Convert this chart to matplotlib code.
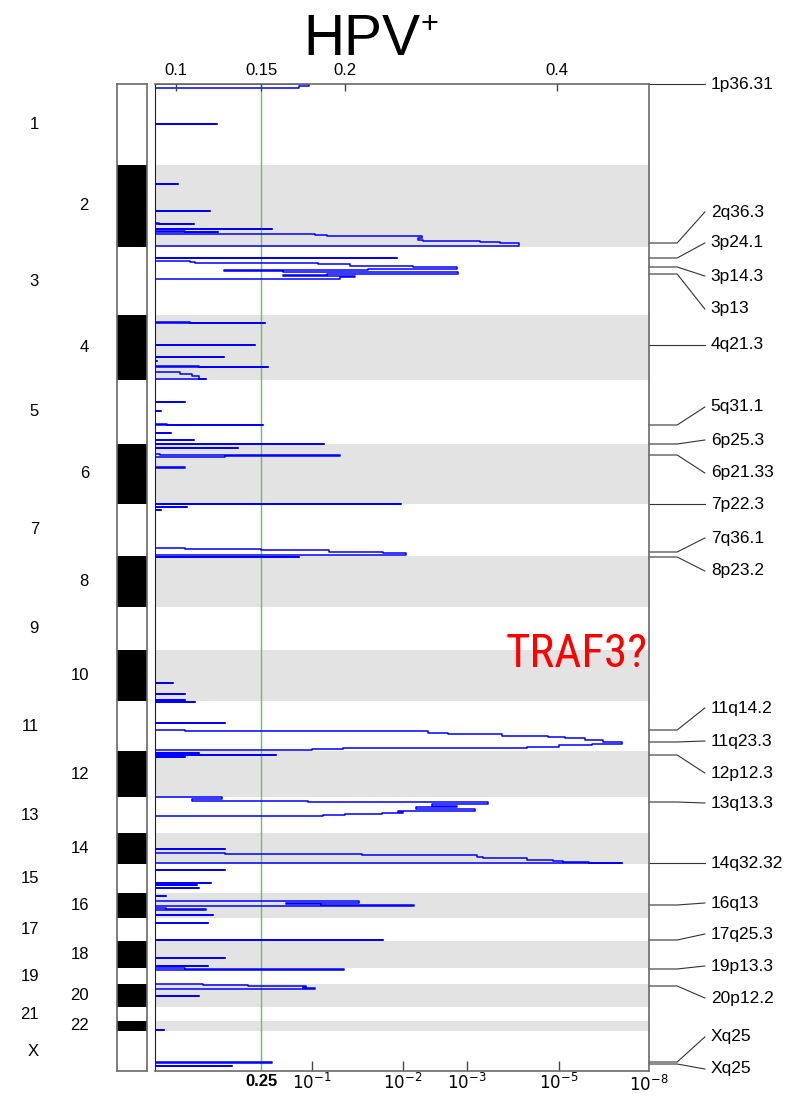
import numpy as np
import matplotlib
matplotlib.use('Agg')
import matplotlib.pyplot as plt
from matplotlib import font_manager
from matplotlib.font_manager import FontProperties
from matplotlib.transforms import blended_transform_factory

plt.rcParams['font.family'] = ['Liberation Sans', 'DejaVu Sans']

chrom_names = ['1', '2', '3', '4', '5', '6', '7', '8', '9', '10', '11', '12',
               '13', '14', '15', '16', '17', '18', '19', '20', '21', '22', 'X']
# chromosome lengths (Mb) as laid out on the genome axis
chrom_len = [243, 246, 204, 195, 192, 180, 156, 153, 129, 153, 150, 138,
             108, 93, 87, 75, 69, 81, 48, 69, 42, 30, 120]

# amplification runs: chromosome, positions (Mb) and -log10(q) along each run
run_chrom = ['1', '1',
             '2', '2', '2', '2', '2', '2',
             '3', '3',
             '4', '4', '4', '4', '4', '4',
             '5', '5', '5', '5', '5',
             '6', '6', '6', '6',
             '7', '7', '7', '7', '8',
             '10', '10', '10',
             '11', '11', '11',
             '12', '12', '12',
             '13',
             '14', '14',
             '15', '15', '15', '15',
             '16', '16', '16', '16',
             '17', '17',
             '18', '18',
             '19',
             '20', '20',
             '22',
             'X', 'X']
run_pos = [[0, 6, 12], [120],
           [57], [138], [174, 177], [192], [198, 201],
           [207, 210, 213, 219, 225, 228, 231, 234, 237, 243],
           [33], [42, 45, 48, 51, 57, 60, 66, 69, 72, 75, 81, 84, 87, 90, 96],
           [21, 24], [90], [126], [138], [153, 156], [171, 177, 183, 189, 192],
           [66], [93], [132, 135], [159], [180],
           [0], [12], [30, 33, 36, 39], [69, 72],
           [0], [9], [18], [132, 135, 138, 141, 144, 147, 153], [3],
           [99], [132], [150],
           [3], [66], [87, 90, 96, 99, 105, 108, 111, 117, 123, 129, 132, 138, 141, 144, 147],
           [6], [12], [18],
           [0, 6, 12, 15, 21, 27, 30, 36, 42, 45, 48, 51, 54, 57],
           [48], [60, 63, 66, 72, 75, 81, 84, 87, 90],
           [18], [57], [63], [72],
           [9], [24, 30, 33, 36, 39], [45, 48, 51], [66],
           [15], [66],
           [51], [75],
           [0, 3, 6],
           [0, 3, 6, 9, 12, 15], [36],
           [27],
           [93, 96], [105]]
run_q = [[0.98, 0.90, 0.25], [0.35],
         [0.13], [0.31], [0.02, 0.22], [0.69], [0.17, 0.36],
         [1.03, 1.16, 2.30, 2.23, 2.31, 3.28, 3.72, 4.13, 4.13, 3.83],
         [1.93], [0.20, 0.23, 1.07, 1.42, 2.16, 2.84, 1.62, 0.39, 0.77, 2.86, 1.16, 0.77, 1.47, 1.31, 1.23],
         [0.20, 0.63], [0.57], [0.39], [0.01], [0.25, 0.66], [0.14, 0.21, 0.25, 0.25, 0.29],
         [0.17], [0.035], [0.07, 0.62], [0.09], [0.22],
         [1.13], [0.47], [0.03, 1.31, 0.40, 0.17], [0.17, 0.17],
         [1.98], [0.18], [0.035], [0.17, 0.60, 1.19, 1.19, 1.78, 2.04, 0.90], [0.90],
         [0.10], [0.17], [0.17],
         [0.23], [0.40], [0.17, 2.39, 2.70, 3.76, 4.76, 5.20, 5.87, 6.47, 7.10, 6.10, 5.00, 4.30, 1.34, 1.00, 0.88],
         [0.25], [0.72], [0.17],
         [0.38, 0.21, 0.97, 3.46, 2.45, 2.84, 2.20, 3.17, 1.95, 2.00, 1.77, 1.36, 1.12, 1.10],
         [0.40], [0.40, 1.55, 3.22, 3.35, 4.30, 4.87, 5.13, 6.00, 7.10],
         [0.40], [0.32], [0.24], [0.25],
         [0.06], [1.52, 0.80, 1.10, 2.17, 0.13], [0.06, 0.29, 0.29], [0.33],
         [0.30], [1.78],
         [0.40], [0.30],
         [0.17, 1.35, 0.18],
         [0.27, 0.53, 0.95, 0.93, 1.03, 0.40], [0.25],
         [0.05],
         [0.69, 0.55], [0.44]]

# named peaks (cytoband, chromosome, position in Mb)
peak_names = ['1p36.31', '2q36.3', '3p24.1', '3p14.3', '3p13', '4q21.3', '5q31.1',
              '6p25.3', '6p21.33', '7p22.3', '7q36.1', '8p23.2', '11q14.2', '11q23.3',
              '12p12.3', '13q13.3', '14q32.32', '16q13', '17q25.3', '19p13.3',
              '20p12.2', 'Xq25', 'Xq25']
peak_chrom = ['1', '2', '3', '3', '3', '4', '5', '6', '6', '7', '7', '8', '11', '11',
              '12', '13', '14', '16', '17', '19', '20', 'X', 'X']
peak_pos = [0, 234, 33, 60, 81, 90, 135, 0, 33, 0, 144, 3, 87, 123,
            12, 15, 90, 36, 66, 3, 6, 93, 99]
# where each cytoband name sits, on the genome axis
label_y = [0, 384, 477, 576, 675, 783, 969, 1068, 1167, 1260, 1362, 1461, 1872, 1971,
           2067, 2157, 2337, 2457, 2550, 2646, 2742, 2859, 2955]

# axis calibration: -log10(q) against distance from the left edge
qscale_val = [0, 0.602, 1, 2, 3, 5, 8]
qscale_pix = [0, 106, 157, 248, 312, 404, 494]
q_ticks = [0.602, 1, 2, 3, 5, 8]
q_labels = ['0.25', '$10^{-1}$', '$10^{-2}$', '$10^{-3}$', '$10^{-5}$', '$10^{-8}$']
gscore_labels = ['0.1', '0.15', '0.2', '0.4']
gscore_at = [0.12, 0.602, 1.36, 4.96]
q_cutoff = 0.602


def fwd(v):
    return np.interp(v, qscale_val, qscale_pix)


def inv(p):
    return np.interp(p, qscale_pix, qscale_val)


def narrow_font():
    # look for a condensed sans face, fall back to the default family
    prefer = ['Liberation Sans Narrow', 'Arial Narrow', 'Roboto Condensed',
              'Open Sans Condensed', 'DejaVu Sans Condensed', 'Noto Sans Condensed']
    faces = [f for f in font_manager.fontManager.ttflist
             if f.style == 'normal' and f.weight in (400, 'normal', 'regular')]
    for name in prefer:
        for f in faces:
            if f.name == name:
                return FontProperties(fname=f.fname)
    for f in faces:
        if f.stretch in ('condensed', 'semi-condensed') and 'Mono' not in f.name \
                and 'Serif' not in f.name:
            return FontProperties(fname=f.fname)
    return FontProperties(family='Liberation Sans')


offsets = np.concatenate([[0], np.cumsum(chrom_len)])
chrom_idx = {c: i for i, c in enumerate(chrom_names)}
total = offsets[-1]

W, H = 798, 1096
fig = plt.figure(figsize=(W / 100, H / 100), dpi=100)
ax = fig.add_axes([155 / W, 1 - 1071 / H, 494 / W, 987 / H])
ax.set_xscale('function', functions=(fwd, inv))
ax.set_xlim(0, 8)
ax.set_ylim(total, 0)

# shade the even chromosomes
for i in range(len(chrom_names)):
    if i % 2 == 1:
        ax.axhspan(offsets[i], offsets[i + 1], color='#e3e3e3', lw=0, zorder=0)

ax.axvline(q_cutoff, color='#6cbf66', lw=1, zorder=1)

xs, ys = [], []
for c, pos, q in zip(run_chrom, run_pos, run_q):
    g = offsets[chrom_idx[c]] + np.array(pos, dtype=float)
    xs += [0] + list(q) + [0]
    ys += [g[0]] + list(g) + [g[-1]]
ax.plot(xs, ys, color='#0000ff', lw=1.1, drawstyle='steps-pre', zorder=2)

ax.set_yticks([])
ax.set_xticks(q_ticks[1:-1])
ax.set_xticklabels(q_labels[1:-1])
ax.set_xticks([q_ticks[0], q_ticks[-1]], minor=True)
ax.set_xticklabels([q_labels[0], q_labels[-1]], minor=True)
ax.tick_params(axis='x', which='major', direction='in', length=7, width=1,
               color='#444444', labelsize=12, pad=1)
ax.tick_params(axis='x', which='minor', length=0, labelsize=12, pad=2)
ax.get_xticklabels(minor=True)[0].set_fontweight('bold')
for s in ['top', 'right', 'bottom']:
    ax.spines[s].set_color('#6a6a6a')
    ax.spines[s].set_linewidth(1.2)
ax.spines['left'].set_color('#222222')

top = ax.twiny()
top.set_xscale('function', functions=(fwd, inv))
top.set_xlim(0, 8)
top.set_xticks(gscore_at)
top.set_xticklabels(gscore_labels)
top.tick_params(axis='x', direction='in', length=5, width=1, color='#444444',
                labelsize=12, pad=4)
for s in top.spines.values():
    s.set_visible(False)

# chromosome bar
cb = fig.add_axes([117 / W, 1 - 1071 / H, 30 / W, 987 / H])
cb.set_xlim(0, 1)
cb.set_ylim(total, 0)
for i in range(len(chrom_names)):
    if i % 2 == 1:
        cb.axhspan(offsets[i], offsets[i + 1], color='black', lw=0)
cb.set_xticks([])
cb.set_yticks([])
for s in cb.spines.values():
    s.set_color('#6a6a6a')
    s.set_linewidth(1.2)

lab_tr = blended_transform_factory(fig.transFigure, ax.transData)
for i, name in enumerate(chrom_names):
    xpix = 39 if i % 2 == 0 else 89
    fig.text(xpix / W, (offsets[i] + offsets[i + 1]) / 2, name, transform=lab_tr,
             ha='right', va='center', fontsize=12)

# cytoband labels on the right
side_tr = blended_transform_factory(ax.transAxes, ax.transData)
for name, c, p, ly in zip(peak_names, peak_chrom, peak_pos, label_y):
    g = offsets[chrom_idx[c]] + p
    ax.plot([1.0, 1.057, 1.113], [g, g, ly], color='#333333', lw=0.8,
            transform=side_tr, clip_on=False)
    ax.text(1.125, ly, name, transform=side_tr, ha='left', va='center', fontsize=12.5)

traf = fig.text(577 / W, 1 - 654 / H, 'TRAF3?', ha='center', va='center',
                color='red', fontproperties=narrow_font())
traf.set_fontsize(37)
fig.canvas.draw()
# squeeze the call-out to its width
wpx = traf.get_window_extent().width
traf.set_fontsize(37 * min(1.0, 142 / wpx))

fig.text(362 / W, 1 - 55 / H, 'HPV', ha='center', va='baseline', fontsize=41)
fig.text(420 / W, 1 - 25 / H, '+', ha='left', va='center', fontsize=22)

fig.savefig('out.png', dpi=100)
